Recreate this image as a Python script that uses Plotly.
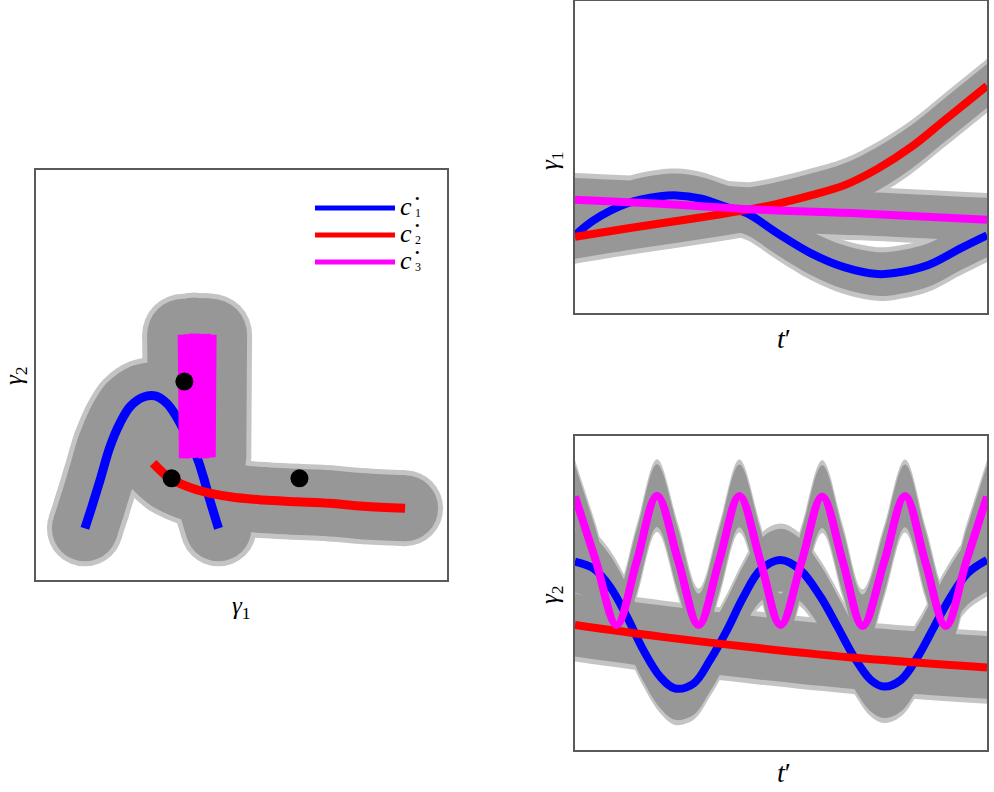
import plotly.graph_objects as go

# ---------------- data ----------------
# Left panel: curves in the (gamma1, gamma2) plane
c1_g1 = [1.19, 1.36, 1.56, 1.80, 2.04, 2.29, 2.61, 2.90, 3.18, 3.42, 3.67, 3.91, 4.07, 4.23, 4.44]
c1_g2 = [1.26, 1.79, 2.44, 3.25, 3.82, 4.23, 4.46, 4.49, 4.31, 3.98, 3.50, 3.01, 2.52, 1.95, 1.26]
c2_g1 = [2.85, 3.26, 3.91, 4.72, 5.53, 6.34, 7.15, 7.96, 8.98]
c2_g2 = [2.85, 2.48, 2.20, 2.03, 1.95, 1.91, 1.87, 1.80, 1.75]
c3_g1 = [4.26, 4.24, 4.12, 4.08, 3.98, 3.93, 3.85, 3.77, 3.72, 3.61, 3.58]
c3_g2 = [5.98, 2.99, 6.00, 2.97, 5.97, 2.99, 6.01, 2.98, 5.99, 2.97, 5.98]
dots_g1 = [3.61, 3.30, 6.41]
dots_g2 = [4.84, 2.48, 2.48]

# Top-right panel: gamma1 versus t'
c1_t_top = [0, 0.045, 0.126, 0.207, 0.247, 0.304, 0.369, 0.418, 0.491, 0.572, 0.653, 0.734, 0.775, 0.856, 0.937, 1.0]
c1_g1_t = [2.49, 2.97, 3.51, 3.74, 3.77, 3.67, 3.39, 3.19, 2.56, 1.92, 1.47, 1.25, 1.28, 1.53, 2.08, 2.49]
c2_t_top = [0, 0.126, 0.288, 0.41, 0.491, 0.572, 0.653, 0.734, 0.815, 0.896, 1.0]
c2_g1_t = [2.44, 2.71, 3.03, 3.29, 3.50, 3.77, 4.09, 4.62, 5.31, 6.17, 7.28]
c3_t_top = [0, 0.207, 0.45, 0.694, 1.0]
c3_g1_t = [3.63, 3.50, 3.31, 3.19, 2.99]

# Bottom-right panel: gamma2 versus t'
c1_t_bot = [0, 0.045, 0.085, 0.126, 0.166, 0.207, 0.243, 0.288, 0.328, 0.369, 0.409, 0.450, 0.499,
            0.547, 0.596, 0.637, 0.677, 0.718, 0.750, 0.791, 0.832, 0.872, 0.912, 0.953, 1.0]
c1_g2_t = [6.00, 5.78, 5.20, 4.25, 3.18, 2.33, 1.96, 2.12, 2.87, 3.82, 4.88, 5.73, 6.05,
           5.73, 4.88, 3.93, 2.97, 2.23, 2.02, 2.23, 2.97, 3.93, 4.88, 5.63, 6.05]
c2_t_bot = [0, 0.207, 0.45, 0.694, 1.0]
c2_g2_t = [3.98, 3.61, 3.24, 2.92, 2.63]
c3_t_bot = [0, 0.05, 0.101, 0.15, 0.199, 0.25, 0.30, 0.35, 0.399, 0.45, 0.499,
            0.55, 0.600, 0.65, 0.698, 0.75, 0.801, 0.85, 0.90, 0.95, 1.0]
c3_g2_t = [8.07, 6.05, 3.98, 6.02, 8.10, 6.05, 3.98, 6.03, 8.09, 6.02, 3.98,
           6.00, 8.07, 6.00, 3.95, 5.98, 8.09, 6.00, 3.95, 6.02, 8.07]

# noise spread (half-width of the grey sample clouds)
spread_top, fuzz_top = 0.70, 0.86
spread_bot, fuzz_bot = 1.00, 1.16

labels = ["1", "2", "3"]

# ---------------- styling ----------------
BLUE, RED, MAG = "#0000ff", "#ff0000", "#ff00ff"
GREY, FUZZ = "#979797", "#c4c4c4"
FONT = "Liberation Serif"

fig = go.Figure()


def band(x, y, spread, color, xa, ya):
    lo = [v - spread for v in y]
    hi = [v + spread for v in y]
    fig.add_trace(go.Scatter(x=x, y=lo, mode="lines", line=dict(width=0, shape="spline"),
                             showlegend=False, hoverinfo="skip", xaxis=xa, yaxis=ya))
    fig.add_trace(go.Scatter(x=x, y=hi, mode="lines", line=dict(width=0, shape="spline"),
                             fill="tonexty", fillcolor=color, showlegend=False,
                             hoverinfo="skip", xaxis=xa, yaxis=ya))


def tube(x, y, width, color, xa, ya, shape="spline"):
    fig.add_trace(go.Scatter(x=x, y=y, mode="lines+markers",
                             line=dict(width=width, color=color, shape=shape, simplify=False),
                             marker=dict(size=width, color=color, line=dict(width=0)),
                             showlegend=False, hoverinfo="skip", xaxis=xa, yaxis=ya))


def curve(x, y, color, width, xa, ya, shape="spline"):
    fig.add_trace(go.Scatter(x=x, y=y, mode="lines",
                             line=dict(width=width, color=color, shape=shape, simplify=False),
                             showlegend=False, hoverinfo="skip", xaxis=xa, yaxis=ya))


# ---- left panel ----
for w, col in [(76, FUZZ), (66, GREY)]:
    tube(c1_g1, c1_g2, w, col, "x", "y")
    tube(c2_g1, c2_g2, w, col, "x", "y")
    tube(c3_g1, c3_g2, w + 6, col, "x", "y", shape="linear")
curve(c1_g1, c1_g2, BLUE, 9, "x", "y")
curve(c2_g1, c2_g2, RED, 9, "x", "y")
curve(c3_g1, c3_g2, MAG, 11, "x", "y", shape="linear")
fig.add_trace(go.Scatter(x=dots_g1, y=dots_g2, mode="markers",
                         marker=dict(size=18, color="black"), showlegend=False, hoverinfo="skip"))

# ---- top-right panel ----
for sp, col in [(fuzz_top, FUZZ), (spread_top, GREY)]:
    band(c1_t_top, c1_g1_t, sp, col, "x2", "y2")
    band(c2_t_top, c2_g1_t, sp, col, "x2", "y2")
    band(c3_t_top, c3_g1_t, sp, col, "x2", "y2")
curve(c1_t_top, c1_g1_t, BLUE, 8, "x2", "y2")
curve(c2_t_top, c2_g1_t, RED, 8, "x2", "y2")
curve(c3_t_top, c3_g1_t, MAG, 8, "x2", "y2")

# ---- bottom-right panel ----
for sp, col in [(fuzz_bot, FUZZ), (spread_bot, GREY)]:
    band(c1_t_bot, c1_g2_t, sp, col, "x3", "y3")
    band(c2_t_bot, c2_g2_t, sp, col, "x3", "y3")
    band(c3_t_bot, c3_g2_t, sp, col, "x3", "y3")
curve(c1_t_bot, c1_g2_t, BLUE, 8, "x3", "y3")
curve(c2_t_bot, c2_g2_t, RED, 8, "x3", "y3")
curve(c3_t_bot, c3_g2_t, MAG, 8, "x3", "y3")

W, H = 994, 792


def px(x):
    return x / W


def py(y):
    return (H - y) / H


ax_common = dict(showticklabels=False, showgrid=False, zeroline=False, ticks="",
                 showline=True, mirror=True, linecolor="#5a5a5a", linewidth=1.5, fixedrange=True)

fig.update_layout(
    width=W, height=H, margin=dict(l=0, r=0, t=0, b=0),
    paper_bgcolor="white", plot_bgcolor="white", showlegend=False,
    xaxis=dict(domain=[px(36), px(447)], range=[0, 10], anchor="y", **ax_common),
    yaxis=dict(domain=[py(580), py(170)], range=[0, 10], anchor="x", **ax_common),
    xaxis2=dict(domain=[px(575), px(987)], range=[0, 1], anchor="y2", **ax_common),
    yaxis2=dict(domain=[py(313), py(1)], range=[0, 10], anchor="x2", **ax_common),
    xaxis3=dict(domain=[px(575), px(987)], range=[0, 1], anchor="y3", **ax_common),
    yaxis3=dict(domain=[py(750), py(436)], range=[0, 10], anchor="x3", **ax_common),
)

ann = []


def add_text(text, x, y, size=22, angle=0, xanchor="center", align="center"):
    ann.append(dict(text=text, x=px(x), y=py(y), xref="paper", yref="paper", showarrow=False,
                    font=dict(family=FONT, size=size, color="black"), textangle=angle,
                    xanchor=xanchor, yanchor="middle", align=align, borderpad=0))


add_text("<i>γ</i><sub>1</sub>", 241, 607, size=25)
add_text("<i>γ</i><sub>2</sub>", 16, 376, size=25, angle=-90)
add_text("<i>γ</i><sub>1</sub>", 551, 161, size=25, angle=-90)
add_text("<i>t</i>′", 784, 338, size=28)
add_text("<i>γ</i><sub>2</sub>", 551, 595, size=25, angle=-90)
add_text("<i>t</i>′", 784, 772, size=28)

# legend (manual): swatches + one column of "c" and one column of bullets / indices
shapes = []
leg_y = [208, 235, 262]
for col, yy in zip([BLUE, RED, MAG], leg_y):
    shapes.append(dict(type="line", xref="paper", yref="paper", x0=px(315), x1=px(395),
                       y0=py(yy), y1=py(yy), line=dict(color=col, width=5)))

c_col = "<br>".join("<span style='font-size:26px'><i>c</i></span>" for _ in labels)
add_text(c_col, 413, leg_y[1] - 2, size=20.8, xanchor="right", align="right")
idx_col = "<br>".join("<span style='font-size:13px'>•</span><br><span style='font-size:12px'>" + lab + "</span>"
                      for lab in labels)
add_text(idx_col, 414, leg_y[1] - 3, size=10.4, xanchor="left", align="left")

fig.update_layout(annotations=ann, shapes=shapes)

fig.write_html("out.html")
